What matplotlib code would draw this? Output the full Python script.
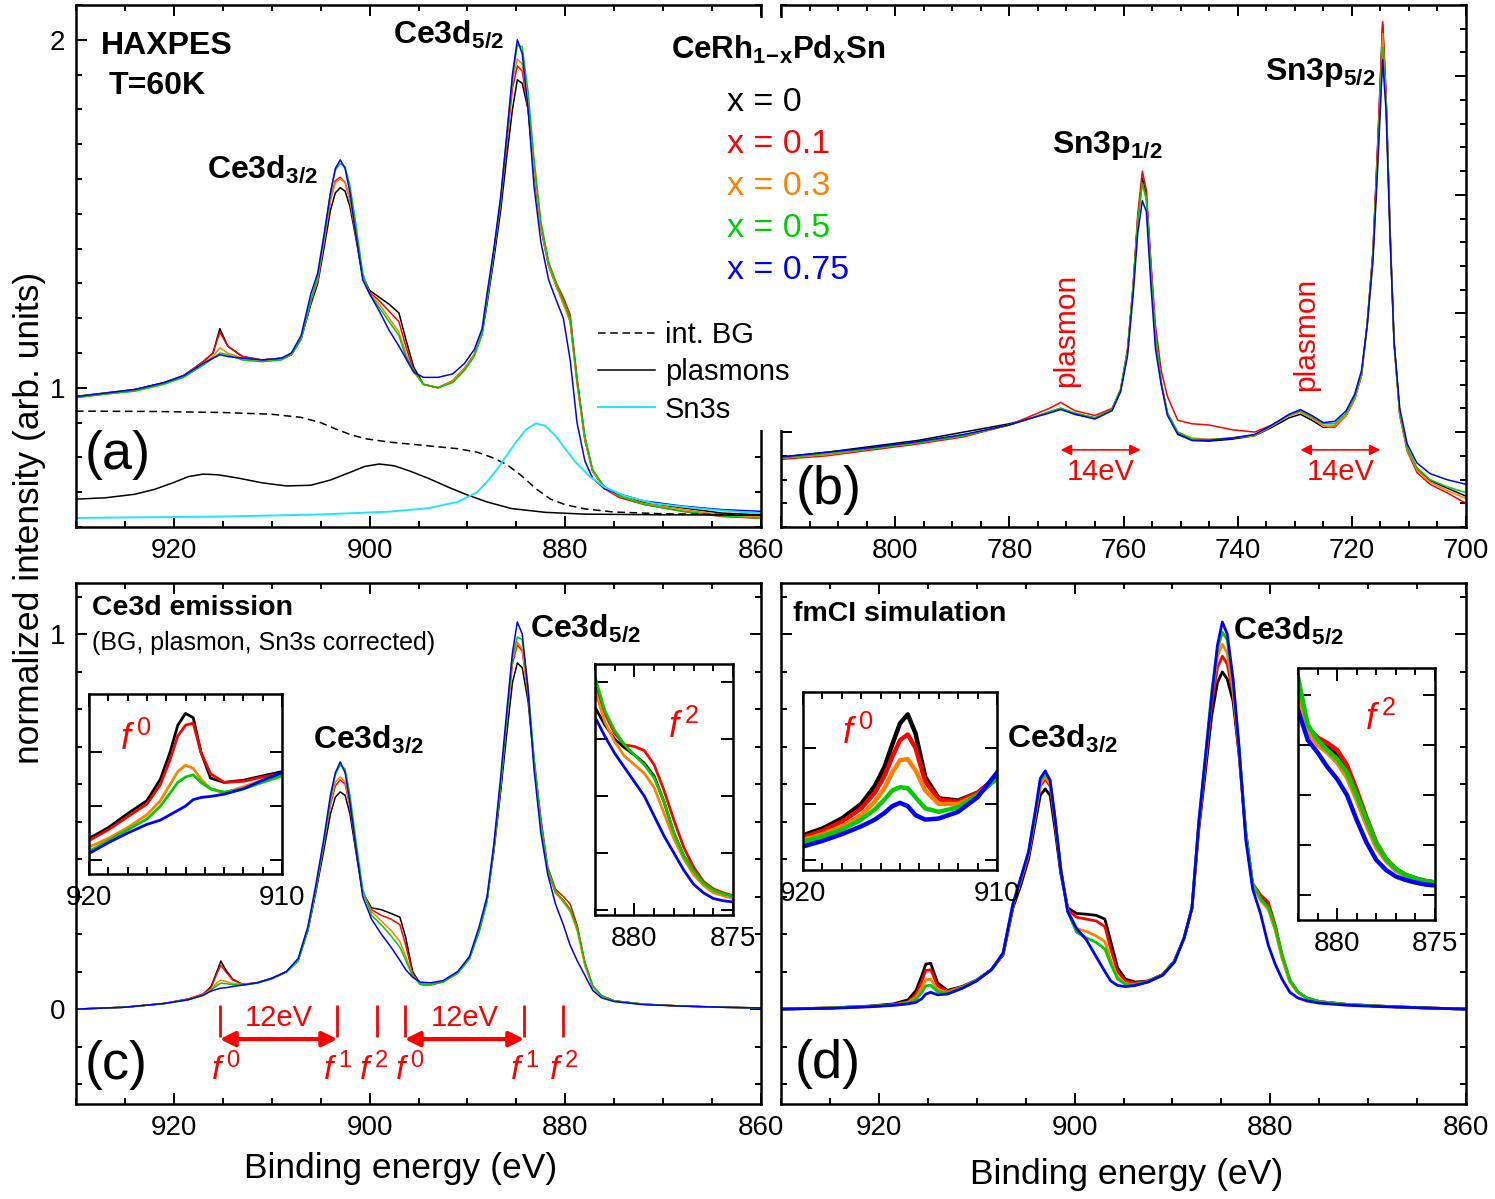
import matplotlib
matplotlib.use("Agg")
import matplotlib.pyplot as plt
from matplotlib.patches import Rectangle
from matplotlib.ticker import MultipleLocator, FixedLocator, FormatStrFormatter, NullFormatter, FuncFormatter

plt.rcParams["font.family"] = ["Liberation Sans", "DejaVu Sans"]
plt.rcParams["mathtext.fontset"] = "custom"
plt.rcParams["mathtext.rm"] = "Liberation Sans"
plt.rcParams["mathtext.it"] = "Liberation Sans:italic"
plt.rcParams["mathtext.bf"] = "Liberation Sans:bold"

W, H = 1495, 1199

SERIES_LABELS = ["x = 0", "x = 0.1", "x = 0.3", "x = 0.5", "x = 0.75"]
SERIES_COLORS = ["#000000", "#ff0000", "#ff8000", "#00cc00", "#0000ff"]

# (a) raw Ce3d spectra
E_A = [930, 927, 924, 921, 919, 917, 916, 915.3, 914.5, 913,
       911, 909, 908, 907, 906, 905.3, 904.6, 904.0, 903.5, 903.0,
       902.5, 902.0, 901.4, 900.7, 900.0, 899.0, 898.0, 897.0, 896.3, 895.5,
       894.5, 893.0, 891.5, 890.3, 889.3, 888.5, 888.0, 887.3, 886.6, 886.0,
       885.4, 884.9, 884.4, 883.8, 883.2, 882.5, 881.7, 880.9, 880.2, 879.5,
       878.8, 878.0, 877.2, 876.0, 874.5, 872.0, 868.0, 864.0, 860.0]
A_BLACK = [0.975, 0.985, 0.995, 1.015, 1.035, 1.075, 1.10, 1.17, 1.12, 1.09,
           1.08, 1.085, 1.095, 1.14, 1.24, 1.30, 1.41, 1.51, 1.56, 1.575,
           1.565, 1.52, 1.43, 1.32, 1.28, 1.26, 1.24, 1.215, 1.14, 1.06,
           1.01, 1.0, 1.02, 1.055, 1.095, 1.155, 1.24, 1.37, 1.51, 1.66,
           1.80, 1.885, 1.875, 1.80, 1.62, 1.46, 1.35, 1.29, 1.25, 1.19,
           1.02, 0.85, 0.76, 0.715, 0.695, 0.67, 0.655, 0.64, 0.635]
A_RED = [0.972, 0.982, 0.992, 1.012, 1.035, 1.075, 1.10, 1.16, 1.12, 1.09,
         1.08, 1.085, 1.095, 1.14, 1.25, 1.31, 1.43, 1.54, 1.595, 1.605,
         1.59, 1.54, 1.44, 1.32, 1.275, 1.25, 1.22, 1.19, 1.12, 1.05,
         1.01, 1.0, 1.02, 1.055, 1.095, 1.16, 1.25, 1.39, 1.53, 1.70,
         1.86, 1.925, 1.91, 1.80, 1.63, 1.47, 1.36, 1.30, 1.26, 1.21,
         1.03, 0.86, 0.76, 0.71, 0.685, 0.665, 0.645, 0.63, 0.625]
A_ORANGE = [0.975, 0.985, 0.993, 1.013, 1.035, 1.07, 1.09, 1.115, 1.10, 1.085,
            1.08, 1.085, 1.095, 1.14, 1.25, 1.31, 1.43, 1.54, 1.59, 1.60,
            1.59, 1.54, 1.44, 1.32, 1.27, 1.24, 1.20, 1.16, 1.10, 1.045,
            1.01, 1.0, 1.02, 1.055, 1.095, 1.16, 1.26, 1.39, 1.54, 1.71,
            1.88, 1.945, 1.93, 1.81, 1.63, 1.46, 1.35, 1.29, 1.24, 1.19,
            1.01, 0.85, 0.76, 0.712, 0.69, 0.668, 0.65, 0.635, 0.63]
A_GREEN = [0.972, 0.982, 0.99, 1.01, 1.03, 1.065, 1.085, 1.10, 1.095, 1.08,
           1.075, 1.08, 1.095, 1.14, 1.25, 1.32, 1.44, 1.56, 1.625, 1.645,
           1.635, 1.58, 1.47, 1.33, 1.27, 1.23, 1.19, 1.15, 1.09, 1.05,
           1.01, 1.0, 1.015, 1.05, 1.09, 1.155, 1.25, 1.39, 1.54, 1.72,
           1.89, 1.985, 1.98, 1.85, 1.66, 1.48, 1.36, 1.30, 1.25, 1.20,
           1.02, 0.86, 0.765, 0.715, 0.69, 0.665, 0.645, 0.632, 0.625]
A_BLUE = [0.975, 0.985, 0.995, 1.015, 1.035, 1.07, 1.085, 1.095, 1.09, 1.085,
          1.08, 1.085, 1.10, 1.15, 1.27, 1.33, 1.45, 1.56, 1.63, 1.655,
          1.63, 1.56, 1.44, 1.31, 1.27, 1.22, 1.165, 1.12, 1.085, 1.045,
          1.03, 1.03, 1.04, 1.07, 1.11, 1.17, 1.27, 1.40, 1.55, 1.72,
          1.90, 2.00, 1.96, 1.80, 1.58, 1.42, 1.31, 1.25, 1.20, 1.08,
          0.90, 0.79, 0.74, 0.71, 0.695, 0.675, 0.66, 0.65, 0.645]

# (a) background components
E_BG = [930, 922, 915, 910, 907, 905, 903.5, 902, 900.5, 898, 895, 891,
        889, 887.5, 886, 884.5, 883, 881.5, 880, 878, 875, 870, 860]
BG = [0.933, 0.932, 0.929, 0.924, 0.915, 0.90, 0.882, 0.866, 0.854, 0.844, 0.836, 0.825,
      0.815, 0.80, 0.78, 0.748, 0.71, 0.68, 0.664, 0.652, 0.643, 0.638, 0.635]
E_PL = [930, 927, 924, 922, 920, 918.5, 917, 915.5, 913.5, 911, 908.5, 906, 904, 902,
        900.5, 899, 897.5, 896, 894, 892, 890, 888, 885.5, 882, 878, 870, 860]
PL = [0.68, 0.684, 0.694, 0.708, 0.728, 0.745, 0.752, 0.75, 0.741, 0.727, 0.718, 0.72, 0.735, 0.757,
      0.774, 0.781, 0.776, 0.762, 0.74, 0.715, 0.692, 0.672, 0.653, 0.642, 0.637, 0.635, 0.634]
E_SN = [930, 915, 905, 898, 894, 891, 889, 888, 887, 886, 885, 884,
        883, 882, 881, 880, 879, 877.5, 876, 874, 871, 867, 863, 860]
SN = [0.626, 0.63, 0.636, 0.644, 0.654, 0.672, 0.70, 0.73, 0.765, 0.805, 0.845, 0.88,
      0.898, 0.89, 0.862, 0.825, 0.788, 0.745, 0.715, 0.69, 0.668, 0.655, 0.645, 0.64]

# (b) Sn3p spectra
E_B = [820, 812, 804, 796, 788, 780, 776, 773, 771, 768.5,
       765, 762, 760.5, 759.3, 758.3, 757.5, 756.7, 756.0, 755.2, 754.4,
       753.4, 752.3, 750.5, 748, 745, 741, 737, 734, 731, 729,
       727, 725, 723, 721, 719.5, 718.3, 717.3, 716.3, 715.5, 714.6,
       714.0, 713.3, 712.6, 711.6, 710.3, 708.6, 706.3, 703.4, 700]
B_BLACK = [0.895, 0.915, 0.94, 0.965, 1.0, 1.035, 1.06, 1.085, 1.10, 1.075,
           1.06, 1.095, 1.18, 1.34, 1.62, 1.90, 2.07, 2.00, 1.70, 1.40,
           1.21, 1.08, 0.995, 0.965, 0.962, 0.97, 0.985, 1.02, 1.06, 1.075,
           1.05, 1.02, 1.025, 1.07, 1.14, 1.24, 1.46, 1.76, 2.19, 2.72,
           2.42, 1.85, 1.38, 1.075, 0.93, 0.845, 0.795, 0.765, 0.73]
B_RED = [0.885, 0.90, 0.925, 0.95, 0.98, 1.03, 1.07, 1.10, 1.125, 1.09,
         1.07, 1.10, 1.18, 1.35, 1.62, 1.92, 2.10, 2.02, 1.72, 1.45,
         1.26, 1.15, 1.05, 1.035, 1.03, 1.01, 1.0, 1.03, 1.07, 1.085,
         1.06, 1.025, 1.02, 1.07, 1.14, 1.24, 1.46, 1.76, 2.20, 2.73,
         2.42, 1.85, 1.38, 1.07, 0.92, 0.83, 0.78, 0.745, 0.70]
B_ORANGE = [0.89, 0.905, 0.93, 0.955, 0.985, 1.03, 1.06, 1.085, 1.10, 1.08,
            1.06, 1.095, 1.18, 1.34, 1.61, 1.89, 2.05, 1.98, 1.68, 1.40,
            1.21, 1.08, 1.0, 0.975, 0.97, 0.975, 0.985, 1.025, 1.07, 1.085,
            1.06, 1.025, 1.025, 1.07, 1.14, 1.24, 1.45, 1.74, 2.16, 2.68,
            2.40, 1.84, 1.37, 1.07, 0.925, 0.84, 0.79, 0.755, 0.72]
B_GREEN = [0.89, 0.91, 0.93, 0.955, 0.985, 1.03, 1.06, 1.085, 1.10, 1.08,
           1.06, 1.095, 1.18, 1.34, 1.61, 1.89, 2.05, 1.98, 1.68, 1.40,
           1.21, 1.08, 1.0, 0.97, 0.968, 0.975, 0.988, 1.028, 1.072, 1.09,
           1.065, 1.035, 1.035, 1.08, 1.15, 1.25, 1.45, 1.74, 2.14, 2.62,
           2.38, 1.83, 1.37, 1.08, 0.935, 0.85, 0.80, 0.77, 0.745]
B_BLUE = [0.895, 0.915, 0.935, 0.96, 0.99, 1.03, 1.06, 1.08, 1.095, 1.075,
          1.055, 1.09, 1.17, 1.32, 1.58, 1.84, 1.975, 1.93, 1.62, 1.35,
          1.20, 1.07, 0.99, 0.965, 0.965, 0.975, 0.99, 1.03, 1.075, 1.095,
          1.07, 1.04, 1.045, 1.09, 1.16, 1.26, 1.45, 1.72, 2.10, 2.57,
          2.35, 1.82, 1.38, 1.10, 0.95, 0.87, 0.825, 0.80, 0.78]
PLASMON_E = [771, 729]
MAIN_PEAK_E = [757, 715]

# (c) corrected Ce3d and (d) fmCI simulation share one energy grid
E_C = [930, 925, 921, 918.5, 917, 916.2, 915.6, 915.2, 914.7, 914,
       913, 911.5, 910, 908.5, 907.3, 906.3, 905.5, 904.7, 904.0, 903.5,
       903.0, 902.5, 902.0, 901.4, 900.7, 899.8, 898.8, 897.8, 896.9, 896.3,
       895.6, 894.8, 893.8, 892.5, 891, 889.8, 888.8, 888.0, 887.3, 886.6,
       886.0, 885.4, 884.9, 884.4, 883.8, 883.2, 882.5, 881.8, 881.0, 880.2,
       879.5, 878.8, 878.0, 877.2, 876.3, 875, 872, 868, 864, 860]
C_BLACK = [0.0, 0.005, 0.015, 0.027, 0.04, 0.06, 0.10, 0.128, 0.105, 0.08,
           0.066, 0.07, 0.082, 0.10, 0.13, 0.21, 0.31, 0.42, 0.52, 0.565,
           0.579, 0.57, 0.52, 0.42, 0.31, 0.27, 0.265, 0.255, 0.245, 0.19,
           0.10, 0.066, 0.065, 0.073, 0.097, 0.135, 0.21, 0.29, 0.42, 0.58,
           0.73, 0.87, 0.923, 0.91, 0.82, 0.66, 0.50, 0.37, 0.31, 0.29,
           0.265, 0.22, 0.12, 0.06, 0.035, 0.022, 0.013, 0.008, 0.005, 0.003]
C_RED = [0.0, 0.005, 0.015, 0.027, 0.04, 0.057, 0.095, 0.117, 0.10, 0.078,
         0.066, 0.07, 0.082, 0.10, 0.13, 0.215, 0.32, 0.435, 0.545, 0.595,
         0.611, 0.60, 0.54, 0.43, 0.31, 0.265, 0.25, 0.24, 0.225, 0.17,
         0.095, 0.066, 0.065, 0.073, 0.097, 0.135, 0.21, 0.29, 0.43, 0.60,
         0.77, 0.92, 0.971, 0.955, 0.84, 0.67, 0.51, 0.38, 0.32, 0.30,
         0.28, 0.225, 0.125, 0.062, 0.036, 0.022, 0.013, 0.008, 0.005, 0.003]
C_ORANGE = [0.0, 0.005, 0.015, 0.026, 0.038, 0.052, 0.07, 0.077, 0.074, 0.068,
            0.066, 0.07, 0.082, 0.10, 0.13, 0.215, 0.32, 0.44, 0.55, 0.605,
            0.619, 0.605, 0.545, 0.43, 0.31, 0.26, 0.235, 0.21, 0.18, 0.14,
            0.09, 0.066, 0.065, 0.073, 0.097, 0.135, 0.21, 0.29, 0.43, 0.60,
            0.77, 0.93, 0.979, 0.96, 0.84, 0.66, 0.49, 0.37, 0.31, 0.285,
            0.26, 0.21, 0.115, 0.058, 0.034, 0.021, 0.013, 0.008, 0.005, 0.003]
C_GREEN = [0.0, 0.005, 0.014, 0.025, 0.037, 0.05, 0.063, 0.069, 0.068, 0.065,
           0.064, 0.069, 0.08, 0.098, 0.128, 0.21, 0.32, 0.44, 0.56, 0.625,
           0.651, 0.64, 0.57, 0.45, 0.32, 0.25, 0.225, 0.195, 0.165, 0.13,
           0.088, 0.066, 0.064, 0.072, 0.095, 0.133, 0.205, 0.285, 0.43, 0.60,
           0.77, 0.94, 0.992, 0.985, 0.86, 0.67, 0.50, 0.375, 0.315, 0.29,
           0.265, 0.22, 0.125, 0.062, 0.036, 0.022, 0.013, 0.008, 0.005, 0.003]
C_BLUE = [0.0, 0.005, 0.015, 0.025, 0.037, 0.048, 0.053, 0.056, 0.057, 0.06,
          0.064, 0.07, 0.082, 0.10, 0.135, 0.22, 0.33, 0.45, 0.57, 0.63,
          0.659, 0.63, 0.55, 0.43, 0.30, 0.24, 0.20, 0.165, 0.13, 0.105,
          0.085, 0.072, 0.07, 0.076, 0.10, 0.14, 0.22, 0.30, 0.44, 0.62,
          0.79, 0.95, 1.032, 1.0, 0.85, 0.64, 0.47, 0.36, 0.28, 0.225,
          0.17, 0.13, 0.09, 0.05, 0.03, 0.02, 0.012, 0.008, 0.005, 0.003]
MARK_E = [915.3, 903.3, 899.2, 896.4, 884.2, 880.2]
MARK_SUP = ["0", "1", "2", "0", "1", "2"]
SPLIT_PAIRS = [(915.3, 903.3), (896.4, 884.2)]

D_BLACK = [0.0, 0.003, 0.008, 0.014, 0.025, 0.05, 0.09, 0.12, 0.122, 0.07,
           0.05, 0.06, 0.078, 0.105, 0.145, 0.27, 0.33, 0.40, 0.50, 0.57,
           0.587, 0.57, 0.48, 0.36, 0.27, 0.255, 0.253, 0.25, 0.24, 0.18,
           0.11, 0.08, 0.072, 0.075, 0.092, 0.128, 0.19, 0.27, 0.48, 0.64,
           0.78, 0.87, 0.899, 0.88, 0.82, 0.68, 0.47, 0.33, 0.30, 0.28,
           0.22, 0.14, 0.075, 0.045, 0.03, 0.02, 0.012, 0.007, 0.003, 0.0]
D_RED = [0.0, 0.003, 0.007, 0.012, 0.02, 0.04, 0.075, 0.103, 0.105, 0.062,
         0.048, 0.059, 0.077, 0.105, 0.147, 0.275, 0.34, 0.41, 0.515, 0.595,
         0.613, 0.595, 0.50, 0.37, 0.265, 0.245, 0.24, 0.235, 0.22, 0.16,
         0.10, 0.075, 0.07, 0.074, 0.092, 0.128, 0.19, 0.27, 0.49, 0.66,
         0.81, 0.91, 0.941, 0.92, 0.84, 0.69, 0.47, 0.335, 0.305, 0.285,
         0.225, 0.145, 0.078, 0.046, 0.03, 0.02, 0.012, 0.007, 0.003, 0.0]
D_ORANGE = [0.0, 0.003, 0.007, 0.011, 0.018, 0.032, 0.058, 0.078, 0.08, 0.052,
            0.045, 0.058, 0.077, 0.105, 0.148, 0.278, 0.345, 0.415, 0.52, 0.60,
            0.62, 0.60, 0.505, 0.37, 0.262, 0.215, 0.207, 0.195, 0.18, 0.13,
            0.085, 0.068, 0.066, 0.073, 0.091, 0.127, 0.19, 0.27, 0.495, 0.67,
            0.83, 0.94, 0.973, 0.95, 0.85, 0.69, 0.46, 0.33, 0.29, 0.265,
            0.21, 0.135, 0.072, 0.044, 0.029, 0.02, 0.012, 0.007, 0.003, 0.0]
D_GREEN = [0.0, 0.003, 0.007, 0.011, 0.016, 0.026, 0.045, 0.062, 0.064, 0.046,
           0.043, 0.057, 0.077, 0.105, 0.149, 0.28, 0.348, 0.418, 0.525, 0.61,
           0.627, 0.61, 0.51, 0.372, 0.26, 0.205, 0.19, 0.178, 0.16, 0.12,
           0.08, 0.066, 0.065, 0.073, 0.091, 0.127, 0.19, 0.27, 0.50, 0.68,
           0.845, 0.96, 1.005, 0.985, 0.87, 0.70, 0.47, 0.335, 0.295, 0.272,
           0.22, 0.145, 0.078, 0.046, 0.03, 0.02, 0.012, 0.007, 0.003, 0.0]
D_BLUE = [0.0, 0.002, 0.006, 0.01, 0.014, 0.018, 0.028, 0.04, 0.045, 0.038,
          0.04, 0.055, 0.075, 0.105, 0.15, 0.28, 0.35, 0.42, 0.53, 0.615,
          0.635, 0.61, 0.51, 0.37, 0.26, 0.215, 0.185, 0.14, 0.10, 0.075,
          0.063, 0.06, 0.063, 0.072, 0.09, 0.125, 0.19, 0.27, 0.50, 0.68,
          0.83, 0.97, 1.032, 1.0, 0.88, 0.70, 0.45, 0.32, 0.255, 0.17,
          0.12, 0.08, 0.045, 0.03, 0.022, 0.016, 0.01, 0.006, 0.003, 0.0]

# insets: f0 region (920-910 eV) and f2 region (882-875 eV)
E_F0 = [920, 919, 918, 917, 916.3, 915.8, 915.4, 915.0, 914.6, 914.2, 913.7, 913, 912, 911, 910]
CF0_BLACK = [0.02, 0.03, 0.043, 0.055, 0.075, 0.10, 0.125, 0.136, 0.132, 0.10, 0.076, 0.072, 0.074, 0.078, 0.082]
CF0_RED = [0.018, 0.028, 0.04, 0.052, 0.07, 0.093, 0.115, 0.125, 0.127, 0.10, 0.08, 0.072, 0.073, 0.077, 0.08]
CF0_ORANGE = [0.012, 0.02, 0.03, 0.042, 0.055, 0.07, 0.082, 0.088, 0.085, 0.075, 0.066, 0.062, 0.068, 0.074, 0.079]
CF0_GREEN = [0.008, 0.018, 0.028, 0.038, 0.05, 0.062, 0.072, 0.077, 0.079, 0.072, 0.066, 0.063, 0.066, 0.072, 0.078]
CF0_BLUE = [0.006, 0.016, 0.025, 0.033, 0.037, 0.042, 0.046, 0.05, 0.056, 0.058, 0.059, 0.061, 0.066, 0.074, 0.081]
DF0_BLACK = [0.022, 0.028, 0.037, 0.05, 0.066, 0.083, 0.103, 0.122, 0.13, 0.113, 0.074, 0.055, 0.053, 0.06, 0.074]
DF0_RED = [0.02, 0.026, 0.034, 0.046, 0.06, 0.075, 0.092, 0.107, 0.112, 0.10, 0.07, 0.054, 0.052, 0.06, 0.074]
DF0_ORANGE = [0.018, 0.023, 0.03, 0.04, 0.052, 0.064, 0.078, 0.089, 0.09, 0.08, 0.062, 0.05, 0.05, 0.058, 0.073]
DF0_GREEN = [0.016, 0.021, 0.027, 0.036, 0.045, 0.054, 0.062, 0.065, 0.064, 0.056, 0.046, 0.043, 0.047, 0.058, 0.073]
DF0_BLUE = [0.012, 0.017, 0.023, 0.03, 0.036, 0.042, 0.048, 0.051, 0.048, 0.04, 0.036, 0.037, 0.043, 0.056, 0.078]

E_F2 = [882, 881.5, 881, 880.5, 880, 879.5, 879, 878.5, 878, 877.5, 877, 876.5, 876, 875.5, 875]
CF2_BLACK = [0.356, 0.325, 0.30, 0.285, 0.272, 0.258, 0.235, 0.19, 0.135, 0.095, 0.068, 0.045, 0.033, 0.027, 0.022]
CF2_RED = [0.398, 0.345, 0.31, 0.29, 0.287, 0.28, 0.255, 0.21, 0.158, 0.11, 0.075, 0.05, 0.037, 0.03, 0.025]
CF2_ORANGE = [0.386, 0.33, 0.295, 0.27, 0.255, 0.24, 0.215, 0.17, 0.125, 0.09, 0.062, 0.043, 0.03, 0.025, 0.02]
CF2_GREEN = [0.409, 0.35, 0.315, 0.29, 0.272, 0.255, 0.232, 0.19, 0.135, 0.095, 0.068, 0.047, 0.035, 0.028, 0.024]
CF2_BLUE = [0.339, 0.305, 0.275, 0.25, 0.225, 0.2, 0.165, 0.13, 0.1, 0.07, 0.045, 0.03, 0.02, 0.016, 0.014]
DF2_BLACK = [0.40, 0.33, 0.31, 0.296, 0.28, 0.25, 0.20, 0.15, 0.10, 0.07, 0.05, 0.04, 0.033, 0.028, 0.025]
DF2_RED = [0.41, 0.335, 0.315, 0.304, 0.29, 0.26, 0.21, 0.155, 0.105, 0.072, 0.052, 0.04, 0.033, 0.028, 0.025]
DF2_ORANGE = [0.396, 0.325, 0.30, 0.285, 0.265, 0.235, 0.19, 0.14, 0.095, 0.068, 0.049, 0.038, 0.031, 0.027, 0.024]
DF2_GREEN = [0.436, 0.34, 0.31, 0.29, 0.272, 0.245, 0.20, 0.15, 0.103, 0.072, 0.052, 0.04, 0.033, 0.028, 0.025]
DF2_BLUE = [0.37, 0.31, 0.285, 0.256, 0.232, 0.20, 0.15, 0.105, 0.07, 0.05, 0.037, 0.03, 0.025, 0.021, 0.019]


def px_box(x0, y0, x1, y1):
    # pixel box of the reference -> figure fraction
    return [x0 / W, 1 - y1 / H, (x1 - x0) / W, (y1 - y0) / H]


def style_axes(ax, xmaj, xmin, ymaj, ymin, ylabels=True, labelsize=20, hide_x=()):
    ax.xaxis.set_major_locator(MultipleLocator(xmaj))
    if xmin:
        ax.xaxis.set_minor_locator(MultipleLocator(xmin))
    if isinstance(ymaj, list):
        ax.yaxis.set_major_locator(FixedLocator(ymaj))
    else:
        ax.yaxis.set_major_locator(MultipleLocator(ymaj))
    if ymin:
        ax.yaxis.set_minor_locator(MultipleLocator(ymin))
    ax.xaxis.set_major_formatter(
        FuncFormatter(lambda v, p: "" if round(v) in hide_x else f"{v:g}"))
    if ylabels:
        ax.yaxis.set_major_formatter(FormatStrFormatter("%g"))
    else:
        ax.yaxis.set_major_formatter(NullFormatter())
    ax.tick_params(which="both", direction="in", top=True, right=True, width=1.4,
                   labelsize=labelsize, pad=8)
    ax.tick_params(which="major", length=8)
    ax.tick_params(which="minor", length=4)
    for spine in ax.spines.values():
        spine.set_linewidth(1.8)


def plot_series(ax, x, series, lw):
    lines = []
    for vals, color, label in zip(series, SERIES_COLORS, SERIES_LABELS):
        (ln,) = ax.plot(x, vals, color=color, lw=lw, label=label, solid_joinstyle="round")
        lines.append(ln)
    return lines


fig = plt.figure(figsize=(W / 100, H / 100), dpi=100)

ax_a = fig.add_axes(px_box(76, 5, 761, 527))
ax_b = fig.add_axes(px_box(781, 5, 1466, 527))
ax_c = fig.add_axes(px_box(76, 583, 761, 1104))
ax_d = fig.add_axes(px_box(781, 583, 1466, 1104))

# (a)
lines_a = plot_series(ax_a, E_A, [A_BLACK, A_RED, A_ORANGE, A_GREEN, A_BLUE], 1.1)
(bg_line,) = ax_a.plot(E_BG, BG, color="black", lw=1.1, ls=(0, (5, 3)), label="int. BG")
(pl_line,) = ax_a.plot(E_PL, PL, color="black", lw=1.1, label="plasmons")
(sn_line,) = ax_a.plot(E_SN, SN, color="#1ee6f5", lw=1.4, label="Sn3s")
ax_a.set_xlim(930, 860)
ax_a.set_ylim(0.6, 2.1)
style_axes(ax_a, 20, 5, 1, 0.1)
ax_a.text(927.5, 1.982, "HAXPES", fontsize=23, fontweight="bold", va="center")
ax_a.text(926.7, 1.867, "T=60K", fontsize=23, fontweight="bold", va="center")
ax_a.text(916.6, 1.603, r"Ce3d$_\mathbf{3/2}$", fontsize=23, fontweight="bold", va="baseline")
ax_a.text(897.6, 1.991, r"Ce3d$_\mathbf{5/2}$", fontsize=23, fontweight="bold", va="baseline")
ax_a.text(929.1, 0.807, "(a)", fontsize=39, va="center")

# (b)
plot_series(ax_b, E_B, [B_BLACK, B_RED, B_ORANGE, B_GREEN, B_BLUE], 1.1)
ax_b.set_xlim(820, 700)
ax_b.set_ylim(0.6, 2.8)
style_axes(ax_b, 20, 5, 0.5, 0.1, ylabels=False, hide_x=(820,))
ax_b.text(772.5, 2.176, r"Sn3p$_\mathbf{1/2}$", fontsize=23, fontweight="bold", va="baseline")
ax_b.text(735.2, 2.484, r"Sn3p$_\mathbf{5/2}$", fontsize=23, fontweight="bold", va="baseline")
for e_pl, e_pk, y_txt in zip(PLASMON_E, MAIN_PEAK_E, [1.43, 1.41]):
    ax_b.text(e_pl - 1.0, y_txt, "plasmon", rotation=90, color="red", fontsize=21.5,
              ha="center", va="center")
    ax_b.annotate("", xy=(e_pk, 0.925), xytext=(e_pl, 0.925),
                  arrowprops=dict(arrowstyle="<|-|>", color="red", lw=1.2,
                                  mutation_scale=16, shrinkA=0, shrinkB=0))
    ax_b.text((e_pl + e_pk) / 2, 0.832, f"{e_pl - e_pk}eV", color="red", fontsize=21,
              ha="center", va="center")
ax_b.text(817.5, 0.756, "(b)", fontsize=39, va="center")

# (c)
plot_series(ax_c, E_C, [C_BLACK, C_RED, C_ORANGE, C_GREEN, C_BLUE], 1.1)
ax_c.set_xlim(930, 860)
ax_c.set_ylim(-0.253, 1.136)
style_axes(ax_c, 20, 5, 1, 0.1)
ax_c.set_xlabel("Binding energy (eV)", fontsize=25.5)
ax_c.xaxis.set_label_coords(0.474, -0.093)
ax_c.text(928.4, 1.069, "Ce3d emission", fontsize=20.5, fontweight="bold", va="center")
ax_c.text(928.4, 0.976, "(BG, plasmon, Sn3s corrected)", fontsize=18, va="center")
ax_c.text(905.8, 0.696, r"Ce3d$_\mathbf{3/2}$", fontsize=23, fontweight="bold", va="baseline")
ax_c.text(883.6, 0.992, r"Ce3d$_\mathbf{5/2}$", fontsize=23, fontweight="bold", va="baseline")
ax_c.vlines(MARK_E, -0.075, 0.01, color="red", lw=2)
# small label nudges (eV) so that neighbouring f-labels do not collide
label_nudge = [-0.6, 0.0, 0.4, -0.5, 0.0, 0.0]
for e, sup, dx in zip(MARK_E, MARK_SUP, label_nudge):
    ax_c.text(e + dx, -0.163, rf"$f^{{\,{sup}}}$", color="red", fontsize=24.5,
              ha="center", va="center")
for e0, e1 in SPLIT_PAIRS:
    ax_c.annotate("", xy=(e1, -0.08), xytext=(e0, -0.08),
                  arrowprops=dict(arrowstyle="<|-|>", color="red", lw=3,
                                  mutation_scale=22, shrinkA=0, shrinkB=0))
    ax_c.text((e0 + e1) / 2, -0.025, f"{e0 - e1:.0f}eV", color="red", fontsize=21,
              ha="center", va="center")
ax_c.text(929.1, -0.149, "(c)", fontsize=39, va="center")

# (d)
plot_series(ax_d, E_C, [D_BLACK, D_RED, D_ORANGE, D_GREEN, D_BLUE], 2.0)
ax_d.set_xlim(930, 860)
ax_d.set_ylim(-0.253, 1.136)
style_axes(ax_d, 20, 5, 1, 0.1, ylabels=False)
ax_d.set_xlabel("Binding energy (eV)", fontsize=25.5)
ax_d.xaxis.set_label_coords(0.505, -0.103)
ax_d.text(928.8, 1.053, "fmCI simulation", fontsize=20.5, fontweight="bold", va="center")
ax_d.text(906.9, 0.699, r"Ce3d$_\mathbf{3/2}$", fontsize=23, fontweight="bold", va="baseline")
ax_d.text(883.8, 0.987, r"Ce3d$_\mathbf{5/2}$", fontsize=23, fontweight="bold", va="baseline")
ax_d.text(928.6, -0.147, "(d)", fontsize=39, va="center")

# insets
insets = [
    (px_box(89, 694, 282, 874), E_F0, [CF0_BLACK, CF0_RED, CF0_ORANGE, CF0_GREEN, CF0_BLUE],
     (920, 910), (-0.013, 0.154), 10, [0, 0.05, 0.1], 2.0, "0", (917.6, 0.111)),
    (px_box(595, 664, 733, 915), E_F2, [CF2_BLACK, CF2_RED, CF2_ORANGE, CF2_GREEN, CF2_BLUE],
     (882, 875), (-0.009, 0.432), 5, [0, 0.1, 0.2, 0.3, 0.4], 2.0, "2", (877.5, 0.32)),
    (px_box(803, 692, 997, 870), E_F0, [DF0_BLACK, DF0_RED, DF0_ORANGE, DF0_GREEN, DF0_BLUE],
     (920, 910), (-0.009, 0.15), 10, [0, 0.05, 0.1], 3.2, "0", (917.2, 0.113)),
    (px_box(1298, 668, 1435, 920), E_F2, [DF2_BLACK, DF2_RED, DF2_ORANGE, DF2_GREEN, DF2_BLUE],
     (882, 875), (-0.05, 0.454), 5, [0, 0.1, 0.2, 0.3, 0.4], 3.2, "2", (877.8, 0.35)),
]
for box, ex, series, xl, yl, xmaj, yt, lw, sup, fpos in insets:
    ax_in = fig.add_axes(box)
    plot_series(ax_in, ex, series, lw)
    ax_in.set_xlim(*xl)
    ax_in.set_ylim(*yl)
    style_axes(ax_in, xmaj, 1, yt, None, ylabels=False)
    ax_in.tick_params(which="major", length=9)
    ax_in.tick_params(which="minor", length=5)
    ax_in.text(*fpos, rf"$f^{{\,{sup}}}$", color="red", fontsize=26, ha="center", va="center")

# white block hiding the spines behind the legends, as in the original
fig.add_artist(Rectangle((592 / W, 1 - 430 / H), (890 - 592) / W, (430 - 18) / H,
                         transform=fig.transFigure, facecolor="white", edgecolor="none", zorder=4))

fig.text(778 / W, 1 - 50 / H, r"CeRh$_\mathbf{1\!-\!x}$Pd$_\mathbf{x}$Sn", fontsize=22.5,
         fontweight="bold", ha="center", va="center", zorder=6)
leg1 = fig.legend(handles=lines_a, labels=SERIES_LABELS, loc="upper left",
                  bbox_to_anchor=(727 / W, 1 - 87 / H), frameon=False, handlelength=0,
                  handletextpad=0, labelcolor="linecolor", fontsize=24.5, borderpad=0,
                  borderaxespad=0, labelspacing=0.32)
for h in leg1.legend_handles:
    h.set_visible(False)

fig.legend(handles=[bg_line, pl_line, sn_line], loc="upper left",
           bbox_to_anchor=(598 / W, 1 - 321 / H), frameon=False, handlelength=1.95,
           handletextpad=0.35, fontsize=21, borderpad=0, borderaxespad=0, labelspacing=0.32)

fig.text(30 / W, 1 - 518 / H, "normalized intensity (arb. units)", rotation=90,
         ha="center", va="center", fontsize=25.5)

fig.savefig("out.png", dpi=100)
